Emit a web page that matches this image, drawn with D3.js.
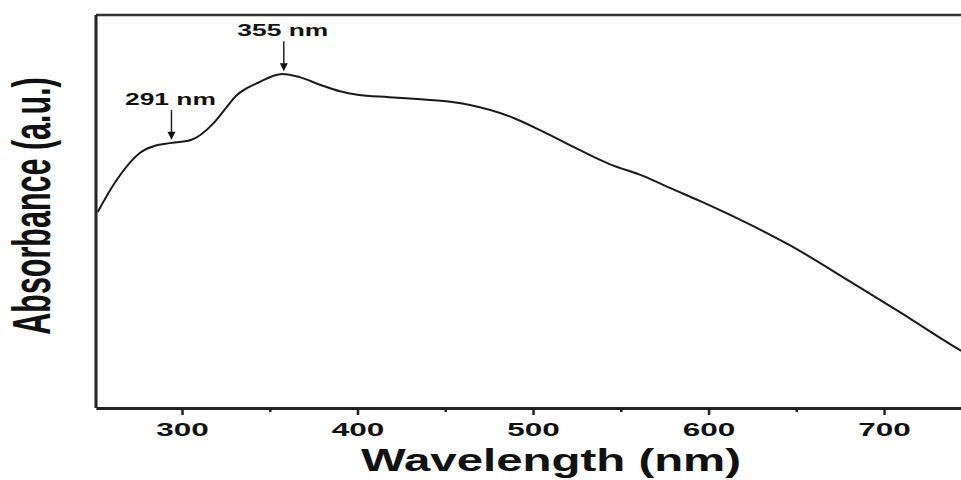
<!DOCTYPE html>
<html>
<head>
<meta charset="utf-8">
<script src="https://cdn.jsdelivr.net/npm/d3@7"></script>
<style>
  body { margin: 0; background: #fff; }
  text { font-family: "Liberation Sans", Arial, sans-serif; font-weight: bold; fill: #111; }
</style>
</head>
<body>
<div id="chart"></div>
<script>
// UV-vis absorbance spectrum - d3 line chart

// data (absorbance in arbitrary units)
var wavelength = [252, 262, 276, 286, 293, 305, 318, 325, 331, 337, 343, 357, 367, 379, 390, 400, 418, 434, 453, 464,
                  489, 504, 521, 544, 563, 578, 595, 612, 646, 681, 709, 743, 750];
var absorbance = [0.499, 0.575, 0.649, 0.669, 0.674, 0.682, 0.725, 0.763, 0.795, 0.814, 0.827, 0.850, 0.842, 0.822,
                  0.806, 0.797, 0.791, 0.786, 0.779, 0.771, 0.738, 0.707, 0.669, 0.620, 0.590, 0.560, 0.527, 0.492,
                  0.415, 0.321, 0.244, 0.148, 0.130];
var majorTicks = [300, 400, 500, 600, 700];
var minorTicks = [350, 450, 550, 650, 750];
var peakLabels = ["291 nm", "355 nm"];
var peakArrowAt = [294, 358];

var W = 961, H = 480;
var stretch = 1.75;

var x = d3.scaleLinear().domain([251, 750]).range([96, 971.8]);
var y = d3.scaleLinear().domain([0, 1]).range([408, 15]);

var svg = d3.select("#chart").append("svg")
    .attr("width", W)
    .attr("height", H);

var data = wavelength.map((w, i) => ({w: w, a: absorbance[i]}));

//curve
svg.append("path")
    .datum(data)
    .attr("fill", "none")
    .attr("stroke", "#1a1a1a")
    .attr("stroke-width", 2)
    .attr("d", d3.line()
        .x(d => x(d.w))
        .y(d => y(d.a))
        .curve(d3.curveMonotoneX));

//frame: top and left
svg.append("line")
    .attr("x1", x(251)).attr("x2", W + 5)
    .attr("y1", y(1)).attr("y2", y(1))
    .attr("stroke", "#333").attr("stroke-width", 2.5);
svg.append("line")
    .attr("x1", x(251)).attr("x2", x(251))
    .attr("y1", y(1)).attr("y2", y(0))
    .attr("stroke", "#222").attr("stroke-width", 3);

//x axis
var x_axis = svg.append("g")
    .attr("transform", "translate(0," + y(0) + ")")
    .call(d3.axisBottom(x).tickValues(majorTicks).tickSize(7).tickSizeOuter(0));
x_axis.select(".domain").attr("stroke", "#222").attr("stroke-width", 3);
x_axis.selectAll(".tick line").attr("stroke", "#222").attr("stroke-width", 2.5);
x_axis.selectAll(".tick text")
    .attr("y", 28)
    .attr("dy", 0)
    .attr("transform", "scale(" + stretch + ",1)")
    .style("font-size", "18px")
    .style("font-family", "Liberation Sans, Arial, sans-serif")
    .style("font-weight", "bold")
    .attr("fill", "#111");

svg.append("g")
    .attr("transform", "translate(0," + y(0) + ")")
    .call(d3.axisBottom(x).tickValues(minorTicks).tickSize(4).tickFormat(""))
    .call(g => g.select(".domain").remove())
    .selectAll(".tick line").attr("stroke", "#222").attr("stroke-width", 2.5);

//axis labels
svg.append("text")
    .attr("transform", "translate(551,471) scale(1.53,1)")
    .attr("text-anchor", "middle")
    .style("font-size", "31px")
    .text("Wavelength (nm)");

svg.append("text")
    .attr("transform", "translate(50,206) scale(1.75,1) rotate(-90)")
    .attr("text-anchor", "middle")
    .style("font-size", "30.5px")
    .text("Absorbance (a.u.)");

//peak annotations
var interp = w => {
    var i = d3.bisectLeft(wavelength, w);
    var t = (w - wavelength[i - 1]) / (wavelength[i] - wavelength[i - 1]);
    return absorbance[i - 1] + t * (absorbance[i] - absorbance[i - 1]);
};

peakArrowAt.forEach(function(w, i) {
    var ax = x(w);
    var tip = y(interp(w)) - 3;
    var g = svg.append("g");
    g.append("line")
        .attr("x1", ax).attr("x2", ax)
        .attr("y1", tip - 30).attr("y2", tip - 6)
        .attr("stroke", "#222").attr("stroke-width", 1.5);
    g.append("path")
        .attr("d", "M" + (ax - 4) + "," + (tip - 8) + "L" + (ax + 4) + "," + (tip - 8) + "L" + ax + "," + tip + "Z")
        .attr("fill", "#111");
    g.append("text")
        .attr("transform", "translate(" + (ax - 1) + "," + (tip - 35) + ") scale(1.6,1)")
        .attr("text-anchor", "middle")
        .style("font-size", "16.5px")
        .text(peakLabels[i]);
});
</script>
</body>
</html>
